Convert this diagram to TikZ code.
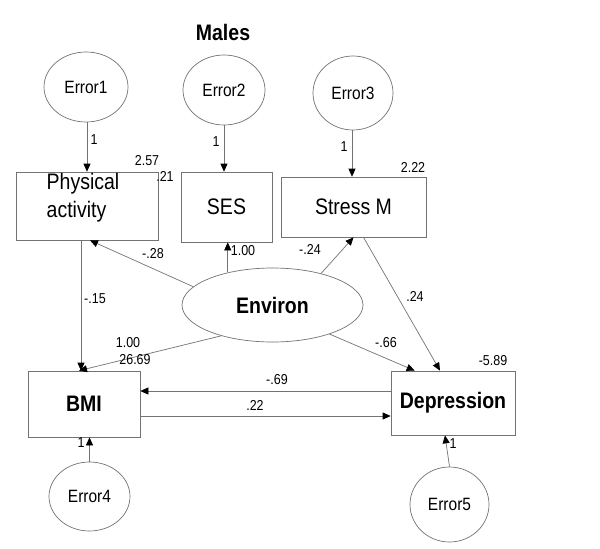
\documentclass[tikz,border=0pt]{standalone}
\usepackage{fontspec}
\setmainfont{Liberation Sans}
\usetikzlibrary{shapes.geometric,arrows.meta,calc}
\newcommand\vst[1]{\scalebox{1}[1.15]{#1}}
\begin{document}
\begin{tikzpicture}[x=1pt,y=-1pt,
  lin/.style={draw=black!55, line width=0.7pt},
  arr/.style={lin, -{Triangle[length=8pt,width=7pt,color=black]}},
  errnode/.style={ellipse, lin, inner sep=0pt, font=\fontsize{15.5}{17}\selectfont},
  boxnode/.style={rectangle, lin, inner sep=0pt, font=\fontsize{19.5}{23}\selectfont},
  bignum/.style={font=\fontsize{12.5}{14}\selectfont, inner sep=0pt},
]
\useasboundingbox (0,0) rectangle (600,549);
\fill[white] (0,0) rectangle (600,549);

\node[font=\bfseries\fontsize{19.5}{22}\selectfont] (title) at (223,32) {\vst{Males}};

% error ellipses
\node[errnode, minimum width=84pt, minimum height=70pt] (e1) at (86,87) {\vst{Error1}};
\node[errnode, minimum width=82pt, minimum height=70pt] (e2) at (224,90) {\vst{Error2}};
\node[errnode, minimum width=80pt, minimum height=74pt] (e3) at (353,93) {\vst{Error3}};
\node[errnode, minimum width=81pt, minimum height=69pt] (e4) at (89.5,496.5) {\vst{Error4}};
\node[errnode, minimum width=79pt, minimum height=75pt] (e5) at (449.5,504.5) {\vst{Error5}};

% boxes
\node[boxnode, minimum width=142pt, minimum height=68pt] (pa) at (87,206) {};
\node[font=\fontsize{19.5}{23}\selectfont, inner sep=0pt] (patext) at (83,198) {\vst{\begin{tabular}{@{}l@{}}Physical\\[1pt]activity\end{tabular}}};
\node[boxnode, minimum width=91pt, minimum height=70pt] (ses) at (226.5,207) {\vst{SES}};
\node[boxnode, minimum width=145pt, minimum height=60pt] (stress) at (353.5,207) {\vst{Stress M}};
\node[boxnode, minimum width=112pt, minimum height=66pt, font=\bfseries\fontsize{19.5}{23}\selectfont] (bmi) at (84,404) {\vst{BMI}};
\node[boxnode, minimum width=124pt, minimum height=64pt, font=\bfseries\fontsize{19.5}{23}\selectfont] (dep) at (453,403) {\vst{Depression}};

% latent
\node[ellipse, lin, inner sep=0pt, minimum width=181pt, minimum height=74pt, font=\bfseries\fontsize{19.5}{23}\selectfont] (env) at (272.5,305) {\vst{Environ}};

% error arrows
\draw[arr] (e1.south -| 87,0) -- (pa.north -| 87,0);
\draw[arr] (e2.south) -- (e2.south |- ses.north);
\draw[arr] (e3.south -| 352,0) -- (stress.north -| 352,0);
\draw[arr] (e4.north) -- (e4.north |- bmi.south);
\draw[arr] (e5.north) -- ($(dep.south)+(-8,0)$);

% structural arrows
\draw[arr] (env.167) -- ($(pa.south)+(3,0)$);
\draw[arr] (env.144) -- (env.144 |- ses.south);
\draw[arr] (env.33) -- (stress.south);
\draw[arr] (pa.south -| 81,0) -- ($(bmi.north)+(-3,0)$);
\draw[arr] (env.211) -- ($(bmi.north)+(-5,0)$);
\draw[arr] (env.333) -- ($(dep.north west)+(24,0)$);
\draw[arr] ($(stress.south)+(10,0)$) -- ($(dep.north)+(-13,0)$);
\draw[arr] ([yshift=12pt]dep.west) -- ([yshift=12pt]dep.west -| bmi.east);
\draw[arr] ([yshift=-12pt]bmi.east) -- ([yshift=-12pt]bmi.east -| dep.west);

% labels
\node[bignum] (l1) at (94,140) {\vst{1}};
\node[bignum] (l2) at (216,142) {\vst{1}};
\node[bignum] (l3) at (344,147) {\vst{1}};
\node[bignum] (l4) at (81,443) {\vst{1}};
\node[bignum] (l5) at (453,444) {\vst{1}};
\node[bignum] (v257) at (147,161) {\vst{2.57}};
\node[bignum] (v21) at (165,176) {\vst{.21}};
\node[bignum] (v222) at (413,167) {\vst{2.22}};
\node[bignum] (c28) at (153,254) {\vst{-.28}};
\node[bignum] (c100a) at (243,251) {\vst{1.00}};
\node[bignum] (c24n) at (310,249) {\vst{-.24}};
\node[bignum] (c15) at (95,299) {\vst{-.15}};
\node[bignum] (c24) at (415,296) {\vst{.24}};
\node[bignum] (c100b) at (128,343) {\vst{1.00}};
\node[bignum] (v2669) at (135,360) {\vst{26.69}};
\node[bignum] (c66) at (386,343) {\vst{-.66}};
\node[bignum] (v589) at (493,361) {\vst{-5.89}};
\node[bignum] (c69) at (277,380) {\vst{-.69}};
\node[bignum] (c22) at (255,405) {\vst{.22}};
\end{tikzpicture}
\end{document}
